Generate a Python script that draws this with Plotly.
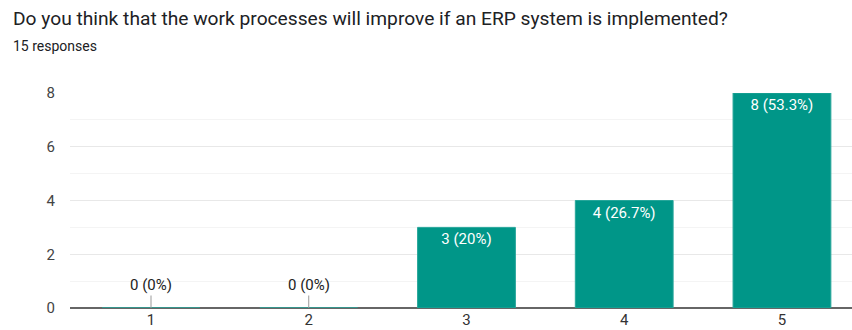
import plotly.graph_objects as go

categories = ["1", "2", "3", "4", "5"]
counts = [0, 0, 3, 4, 8]
total = 15
labels = [f"{c} ({round(c / total * 100, 1):g}%)" for c in counts]

title = "Do you think that the work processes will improve if an ERP system is implemented?"
subtitle = "15 responses"

xpos = [1, 2, 3, 4, 5]

L, T, B = 70, 93, 22
W, H = 852, 330
pw, ph = W - L, H - T - B

fig = go.Figure()
fig.add_trace(go.Bar(
    x=xpos, y=counts, width=0.62,
    marker=dict(color="#009688", line=dict(color="#26a69a", width=1)),
    text=[l if c > 0 else "" for l, c in zip(labels, counts)],
    textposition="inside", insidetextanchor="end",
    textfont=dict(color="white", size=15, family="Roboto"),
    textangle=0, hoverinfo="skip",
))

for x, c, l in zip(xpos, counts, labels):
    if c == 0:
        fig.add_annotation(x=x, y=0, text=l, showarrow=True, ax=0, ay=-23,
                           arrowhead=0, arrowwidth=1, arrowcolor="#999999",
                           font=dict(size=15, color="#222222", family="Roboto"))

fig.add_annotation(xref="paper", yref="paper", x=(11 - L) / pw, y=1 + (T - 18) / ph,
                   xanchor="left", yanchor="middle", text=title, showarrow=False,
                   font=dict(size=19.2, color="#202124", family="Roboto"))
fig.add_annotation(xref="paper", yref="paper", x=(11 - L) / pw, y=1 + (T - 46) / ph,
                   xanchor="left", yanchor="middle", text=subtitle, showarrow=False,
                   font=dict(size=14, color="#202124", family="Roboto"))

fig.update_layout(
    width=W, height=H,
    margin=dict(l=L, r=0, t=T, b=B),
    paper_bgcolor="white", plot_bgcolor="white",
    font=dict(family="Roboto", size=15, color="#444444"),
    showlegend=False,
    xaxis=dict(range=[0.4865, 5.444], tickvals=xpos, ticktext=categories,
               showgrid=False, zeroline=False, showline=False, automargin=False,
               ticks="", ticklabelstandoff=1,
               tickfont=dict(size=15, color="#333333"), fixedrange=True),
    yaxis=dict(range=[0, 8], tickvals=[0, 2, 4, 6, 8], showgrid=True,
               gridcolor="#e8e8e8", gridwidth=1, automargin=False,
               minor=dict(tickvals=[1, 3, 5, 7], showgrid=True, gridcolor="#f4f4f4"),
               zeroline=True, zerolinecolor="#666666", zerolinewidth=2,
               ticks="", ticklabelstandoff=14,
               tickfont=dict(size=15, color="#444444")),
)

fig.write_html("out.html")
